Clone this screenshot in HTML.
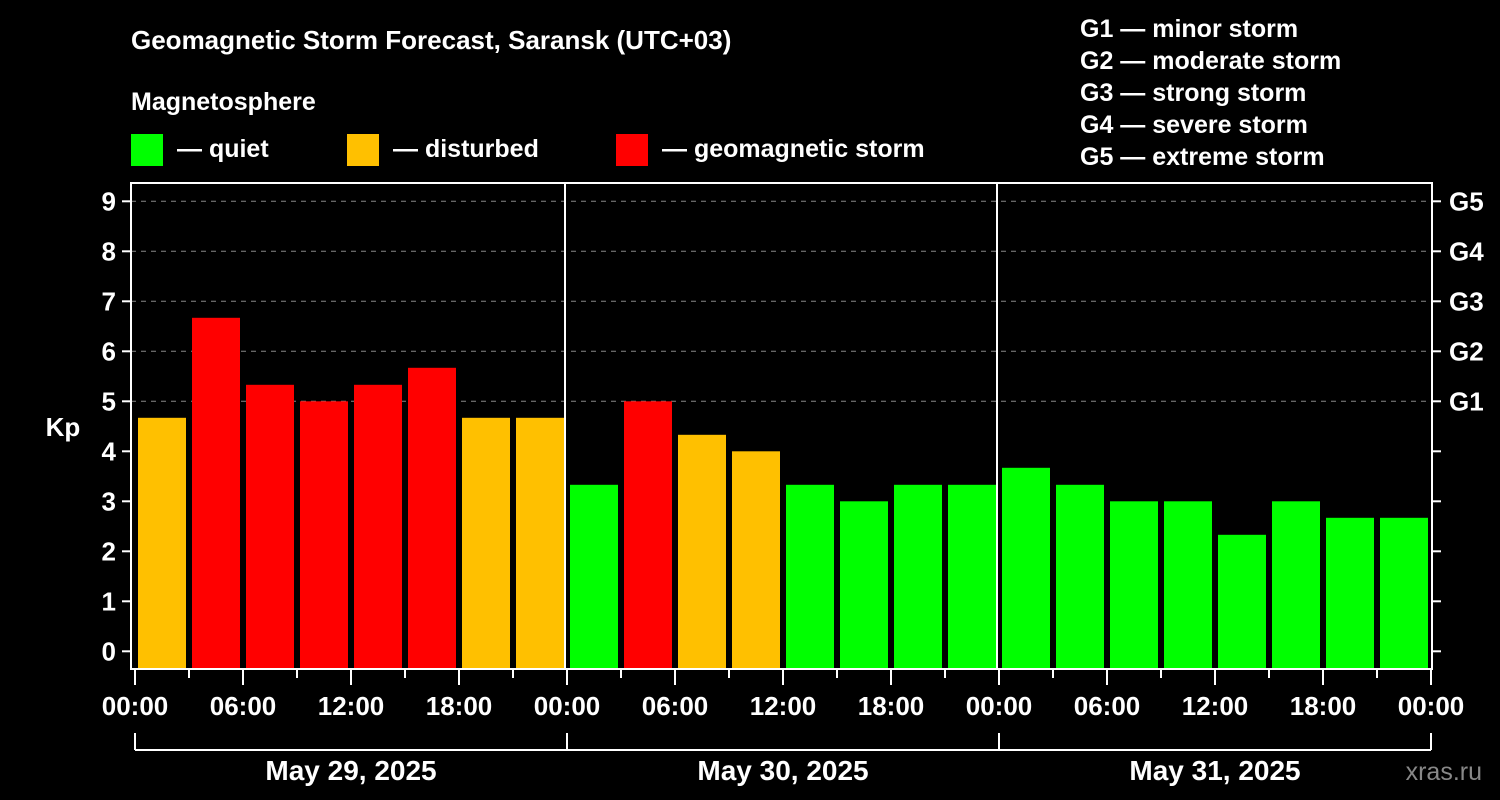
<!DOCTYPE html>
<html><head><meta charset="utf-8"><style>
html,body{margin:0;padding:0;background:#000;}
svg{display:block;font-family:"Liberation Sans",Arial,sans-serif;font-weight:bold;}
</style></head><body>
<svg id="chart" width="1500" height="800" viewBox="0 0 1500 800">
<rect width="1500" height="800" fill="#000"/>
<text x="131" y="49" fill="#fff" font-size="26">Geomagnetic Storm Forecast, Saransk (UTC+03)</text>
<text x="131" y="110" fill="#fff" font-size="25">Magnetosphere</text>
<g><rect x="131" y="134" width="32" height="32" fill="#00ff00"/><text x="177" y="157" fill="#fff" font-size="25">— quiet</text></g>
<g><rect x="347" y="134" width="32" height="32" fill="#ffc000"/><text x="393" y="157" fill="#fff" font-size="25">— disturbed</text></g>
<g><rect x="616" y="134" width="32" height="32" fill="#ff0000"/><text x="662" y="157" fill="#fff" font-size="25">— geomagnetic storm</text></g>
<g fill="#fff" font-size="25">
<text x="1080" y="37">G1 — minor storm</text>
<text x="1080" y="69">G2 — moderate storm</text>
<text x="1080" y="101">G3 — strong storm</text>
<text x="1080" y="133">G4 — severe storm</text>
<text x="1080" y="165">G5 — extreme storm</text>
</g>
<text x="63" y="436" fill="#fff" font-size="26" text-anchor="middle">Kp</text>
<text x="1482" y="780" fill="#888" font-size="25" text-anchor="end" font-weight="normal">xras.ru</text>
<g id="grid"></g><g id="bars"></g><g id="axes"></g>
</svg>
<script>
const dayLabels = ["May 29, 2025","May 30, 2025","May 31, 2025"];
const hourLabels = ["00:00","06:00","12:00","18:00"];
const kpValues = [4.67,6.67,5.33,5,5.33,5.67,4.67,4.67, 3.33,5,4.33,4,3.33,3,3.33,3.33, 3.67,3.33,3,3,2.33,3,2.67,2.67];
const yTicks = [0,1,2,3,4,5,6,7,8,9];
const gLabels = {5:"G1",6:"G2",7:"G3",8:"G4",9:"G5"};

const NS="http://www.w3.org/2000/svg";
const X0=135, SLOT=54, L=131, R=1432, T=183, B=669;
const yS=v=>651.3-50*v;
const xS=i=>X0+SLOT*i;
function mk(tag,attrs,parent,text){const e=document.createElementNS(NS,tag);for(const k in attrs)e.setAttribute(k,attrs[k]);if(text!==undefined)e.textContent=text;parent.appendChild(e);return e;}
const grid=document.getElementById('grid'),bars=document.getElementById('bars'),axes=document.getElementById('axes');

yTicks.forEach(v=>{
  const y=yS(v);
  if(v>=5){const g=mk('line',{x1:L,x2:R,y1:y,y2:y,stroke:'#888','stroke-width':1,'stroke-dasharray':'5,5'},grid);
    
    }
  mk('line',{x1:122,x2:L,y1:y,y2:y,stroke:'#fff','stroke-width':2},axes);
  mk('line',{x1:R,x2:1441,y1:y,y2:y,stroke:'#fff','stroke-width':2},axes);
  const t=mk('text',{x:116,y:y+9,fill:'#fff','font-size':26,'text-anchor':'end'},axes,String(v));
  
  
  if(gLabels[v]){const g=mk('text',{x:1449,y:y+9,fill:'#fff','font-size':26},axes,gLabels[v]);
    
    }
});

kpValues.forEach((v,i)=>{
  const c = v>=5?'#ff0000':(v>=4?'#ffc000':'#00ff00');
  const r=mk('rect',{x:xS(i)+3,y:yS(v),width:SLOT-6,height:B-yS(v),fill:c},bars);
  
  
});

mk('rect',{x:L,y:T,width:R-L,height:B-T,fill:'none',stroke:'#fff','stroke-width':2},axes);
for(let d=1;d<dayLabels.length;d++){
  const x=xS(d*8)-2;
  mk('line',{x1:x,x2:x,y1:T,y2:B,stroke:'#fff','stroke-width':2},axes);
}
const nSlots=dayLabels.length*8;
for(let i=0;i<=nSlots;i++){
  const x=xS(i), major=i%2===0;
  mk('line',{x1:x,x2:x,y1:B,y2:major?685:678,stroke:'#fff','stroke-width':2},axes);
  if(major){const t=mk('text',{x:x,y:715,fill:'#fff','font-size':26,'text-anchor':'middle'},axes,hourLabels[(i/2)%4]);
    
    }
}
mk('line',{x1:xS(0),x2:xS(nSlots),y1:750,y2:750,stroke:'#fff','stroke-width':2},axes);
for(let d=0;d<=dayLabels.length;d++){
  const x=xS(d*8);
  mk('line',{x1:x,x2:x,y1:733,y2:750,stroke:'#fff','stroke-width':2},axes);
}
dayLabels.forEach((lab,d)=>{
  const t=mk('text',{x:xS(d*8+4),y:780,fill:'#fff','font-size':28,'text-anchor':'middle'},axes,lab);
  
  
});
</script>
</body></html>
